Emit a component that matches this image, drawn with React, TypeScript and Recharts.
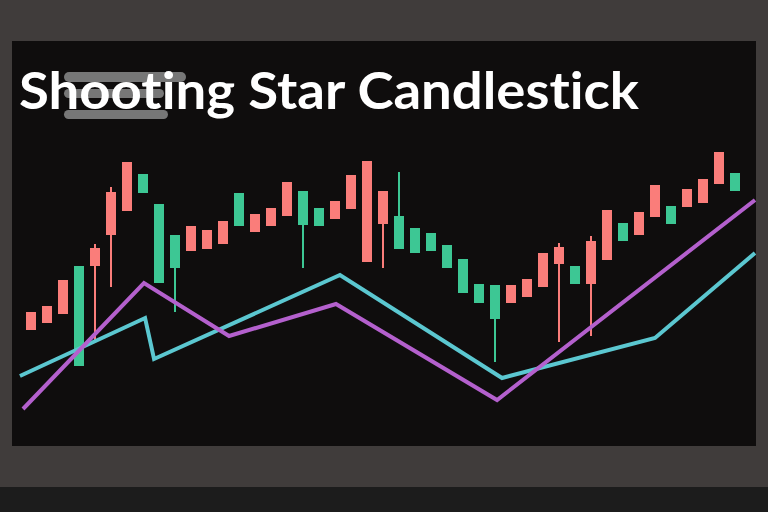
import { ComposedChart, Bar, Line, XAxis, YAxis } from 'recharts';

// candle data, one entry per session
const sessions = Array.from({ length: 45 }, (_, i) => `D${i + 1}`);
const opens = [116, 123, 132, 180, 180, 211, 235, 272, 242, 211, 195, 197, 202, 253, 214, 220, 230, 255, 238, 227, 237, 184, 222, 230, 218, 213, 201, 187, 162, 161, 143, 149, 159, 182, 180, 162, 186, 223, 211, 229, 240, 239, 243, 262, 273];
const closes = [134, 140, 166, 80, 198, 254, 284, 253, 163, 178, 220, 216, 225, 220, 232, 238, 264, 221, 220, 245, 271, 285, 255, 197, 193, 195, 178, 153, 143, 127, 161, 167, 193, 199, 162, 205, 236, 205, 234, 261, 222, 257, 267, 294, 255];
const highs = [134, 140, 166, 180, 202, 259, 284, 272, 242, 211, 220, 216, 225, 253, 232, 238, 264, 255, 238, 245, 271, 285, 255, 274, 218, 213, 201, 187, 162, 161, 161, 167, 193, 203, 180, 210, 236, 223, 234, 261, 240, 257, 267, 294, 273];
const lows = [116, 123, 132, 80, 106, 159, 235, 253, 163, 134, 195, 197, 202, 220, 214, 220, 230, 178, 220, 227, 237, 184, 178, 197, 193, 195, 178, 153, 143, 84, 143, 149, 159, 104, 162, 110, 186, 205, 211, 229, 222, 239, 243, 262, 255];

// moving-average style lines (x in session units)
const cyanX = [-0.69, 7.13, 7.69, 19.31, 29.44, 39, 45.25];
const cyanY = [70, 128, 87, 171, 68, 108, 193];
const purpleX = [-0.5, 7.06, 12.38, 19.06, 29.13, 45.25];
const purpleY = [37, 163, 110, 142, 46, 246];

const UP = '#fa7d7a';
const DOWN = '#3dc794';

const candles = sessions.map((name, i) => ({
    name,
    open: opens[i],
    close: closes[i],
    high: highs[i],
    low: lows[i],
}));
const cyanLine = cyanX.map((x, i) => ({ x, y: cyanY[i] }));
const purpleLine = purpleX.map((x, i) => ({ x, y: purpleY[i] }));

const Candle = (props: any) => {
    const { x, y, width, height, payload } = props;
    const { open, close, high, low } = payload;
    const top = Math.min(y, y + height);
    const h = Math.abs(height);
    const ppu = high - low > 0 ? h / (high - low) : 0;
    const bodyTop = top + (high - Math.max(open, close)) * ppu;
    const bodyH = Math.abs(open - close) * ppu;
    const color = close >= open ? UP : DOWN;
    const cx = x + width / 2;
    return (
        <g>
            <rect x={cx - 1} y={top} width={2} height={h} fill={color} />
            <rect x={x} y={bodyTop} width={width} height={bodyH} fill={color} />
        </g>
    );
};

export default function App() {
    return (
        <div style={{ position: 'fixed', left: 0, top: 0, width: 768, height: 512, background: '#403c3b', overflow: 'hidden' }}>
            <div style={{ position: 'absolute', left: 0, top: 487, width: 768, height: 25, background: '#1c1c1c' }} />
            <div style={{ position: 'absolute', left: 12, top: 41, width: 744, height: 405, background: '#0f0d0d' }}>
                <ComposedChart width={744} height={405} data={candles} margin={{ top: 0, right: 0, bottom: 0, left: 0 }}>
                    <XAxis xAxisId="c" dataKey="name" type="category" hide padding={{ left: 11, right: 13 }} />
                    <XAxis xAxisId="n" dataKey="x" type="number" hide domain={[-1.1875, 45.3125]} allowDataOverflow />
                    <YAxis hide domain={[0, 405]} allowDataOverflow />
                    <Bar
                        xAxisId="c"
                        dataKey={(d: any) => [d.low, d.high]}
                        barSize={10}
                        shape={<Candle />}
                        isAnimationActive={false}
                    />
                    <Line xAxisId="n" data={cyanLine} dataKey="y" stroke="#5bc7d0" strokeWidth={4} dot={false} isAnimationActive={false} />
                    <Line xAxisId="n" data={purpleLine} dataKey="y" stroke="#b460cd" strokeWidth={4} dot={false} isAnimationActive={false} />
                </ComposedChart>
            </div>
            <svg style={{ position: 'absolute', left: 0, top: 0 }} width={768} height={140}>
                <rect x={64} y={72} width={122} height={10} rx={5} fill="#777777" />
                <rect x={64} y={89} width={100} height={9} rx={4.5} fill="#777777" />
                <rect x={64} y={110} width={104} height={9} rx={4.5} fill="#777777" />
                <text
                    x={19}
                    y={109}
                    fill="#ffffff"
                    fontFamily="Lato, 'Noto Sans', sans-serif"
                    fontWeight={700}
                    fontSize={52}
                    textLength={620}
                    lengthAdjust="spacingAndGlyphs"
                    style={{ fontVariantLigatures: 'none' }}
                >
                    Shooting Star Candlestick
                </text>
            </svg>
        </div>
    );
}
